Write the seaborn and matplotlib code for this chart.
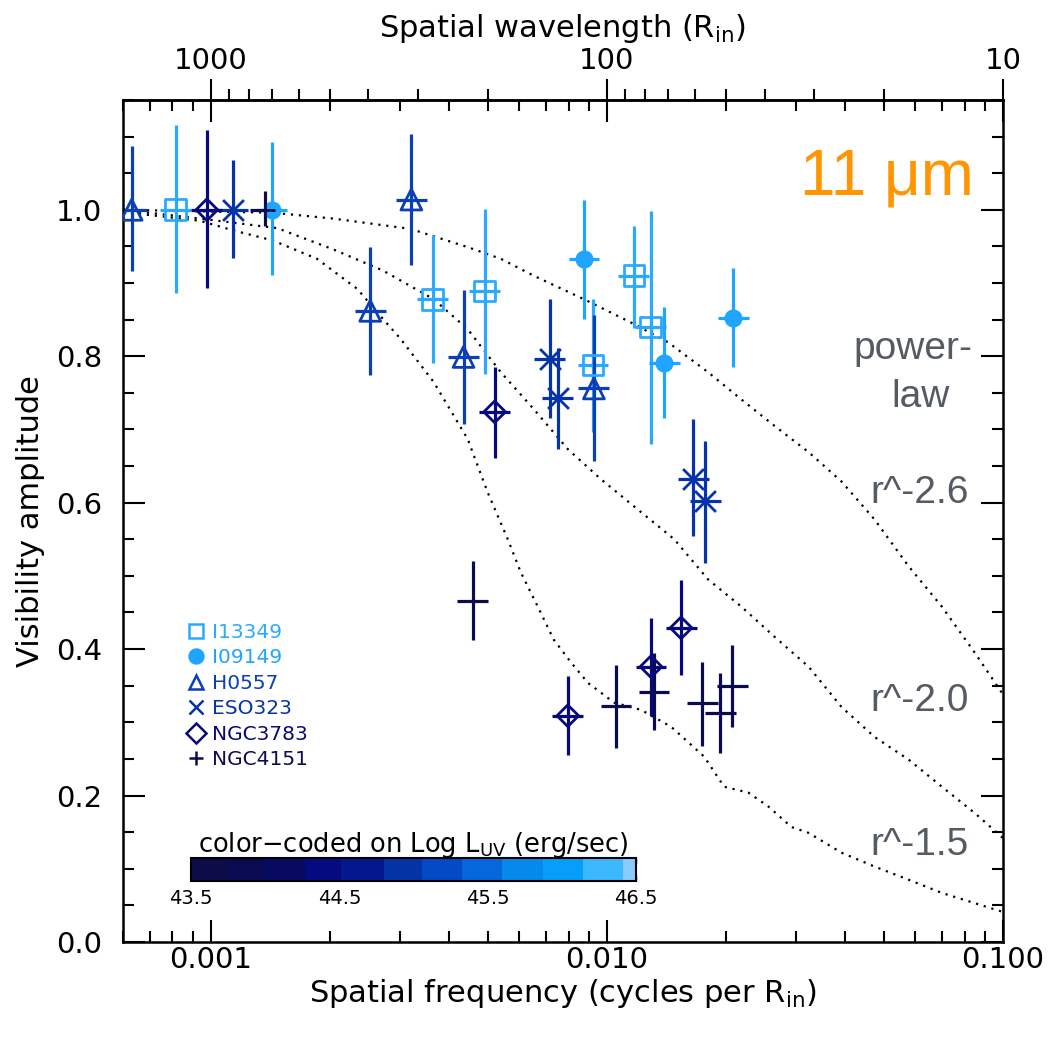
import numpy as np
import pandas as pd
import matplotlib
matplotlib.use("Agg")
from matplotlib import pyplot as plt
from matplotlib.colors import ListedColormap, BoundaryNorm
from matplotlib.cm import ScalarMappable
from matplotlib.lines import Line2D
from matplotlib.ticker import LogLocator, MultipleLocator, NullFormatter
import seaborn as sns


# THE DATA
sources = ["I13349", "I09149", "H0557", "ESO323", "NGC3783", "NGC4151"]
src_colors = ["#2aaaff", "#1fa5ff", "#0a3fb5", "#0733aa", "#08087e", "#0b0b50"]
src_markers = ["s", "o", "^", "x", "D", "+"]
src_open = [True, False, True, False, True, False]

i13349_freq = [0.000815, 0.00363, 0.00491, 0.00922, 0.0117, 0.0129]
i13349_vis = [1.0, 0.878, 0.889, 0.788, 0.910, 0.840]
i13349_lo = [0.886, 0.791, 0.776, 0.696, 0.839, 0.680]
i13349_hi = [1.116, 0.965, 1.001, 0.878, 0.978, 0.999]

i09149_freq = [0.001427, 0.00875, 0.01394, 0.02084]
i09149_vis = [1.0, 0.933, 0.791, 0.852]
i09149_lo = [0.911, 0.851, 0.715, 0.785]
i09149_hi = [1.092, 1.014, 0.867, 0.921]

h0557_freq = [0.000631, 0.002526, 0.003208, 0.004345, 0.009272]
h0557_vis = [1.0, 0.862, 1.014, 0.799, 0.756]
h0557_lo = [0.916, 0.774, 0.925, 0.707, 0.657]
h0557_hi = [1.087, 0.949, 1.103, 0.891, 0.856]

eso323_freq = [0.001137, 0.007173, 0.007515, 0.01651, 0.01771]
eso323_vis = [1.0, 0.796, 0.743, 0.633, 0.602]
eso323_lo = [0.934, 0.715, 0.673, 0.554, 0.518]
eso323_hi = [1.068, 0.878, 0.811, 0.714, 0.684]

ngc3783_freq = [0.000977, 0.005206, 0.007965, 0.01292, 0.01539]
ngc3783_vis = [1.0, 0.724, 0.309, 0.376, 0.429]
ngc3783_lo = [0.893, 0.661, 0.256, 0.308, 0.364]
ngc3783_hi = [1.109, 0.785, 0.363, 0.443, 0.494]

ngc4151_freq = [0.00137, 0.004579, 0.010539, 0.01315, 0.0174, 0.01932, 0.02073]
ngc4151_vis = [1.0, 0.466, 0.322, 0.342, 0.326, 0.313, 0.349]
ngc4151_lo = [0.978, 0.413, 0.265, 0.289, 0.267, 0.258, 0.294]
ngc4151_hi = [1.026, 0.520, 0.378, 0.395, 0.382, 0.368, 0.405]

# half length of the horizontal bars, in dex
xbar_dex = 0.039

# model curves (power-law brightness profiles)
curve26_freq = [0.0006, 0.001436, 0.002036, 0.00319, 0.00445, 0.0054, 0.00653, 0.00874,
                0.0117, 0.01427, 0.01802, 0.02185, 0.02648, 0.0323, 0.0391, 0.0474,
                0.0578, 0.0701, 0.0849, 0.1]
curve26_vis = [1.0, 0.996, 0.988, 0.974, 0.949, 0.933, 0.910, 0.878,
               0.844, 0.819, 0.778, 0.741, 0.705, 0.669, 0.629, 0.577,
               0.513, 0.458, 0.395, 0.338]

curve20_freq = [0.0006, 0.000938, 0.00147, 0.002036, 0.00272, 0.00365, 0.00445, 0.0054,
                0.00653, 0.00797, 0.00966, 0.0122, 0.01479, 0.01802, 0.02185, 0.02648,
                0.0323, 0.0391, 0.0474, 0.0578, 0.0701, 0.0849, 0.1]
curve20_vis = [1.0, 0.988, 0.975, 0.946, 0.917, 0.878, 0.837, 0.778,
               0.728, 0.673, 0.632, 0.587, 0.550, 0.495, 0.458, 0.417,
               0.376, 0.321, 0.280, 0.249, 0.212, 0.176, 0.142]

curve15_freq = [0.0006, 0.000938, 0.001137, 0.001436, 0.001854, 0.002342, 0.00272, 0.00301,
                0.00365, 0.00445, 0.0050, 0.00562, 0.00606, 0.00669, 0.00734, 0.00811,
                0.00895, 0.01042, 0.0122, 0.01452, 0.01761, 0.01977, 0.02275, 0.02557,
                0.02924, 0.0323, 0.0391, 0.0474, 0.0578, 0.0701, 0.0849, 0.1]
curve15_vis = [0.997, 0.985, 0.972, 0.958, 0.933, 0.892, 0.851, 0.824,
               0.765, 0.687, 0.614, 0.550, 0.505, 0.458, 0.413, 0.382,
               0.354, 0.327, 0.317, 0.294, 0.253, 0.212, 0.204, 0.185,
               0.157, 0.149, 0.122, 0.103, 0.085, 0.067, 0.053, 0.041]

# colour bar (Log L_UV)
cbar_bounds = [43.5, 43.74, 44.0, 44.27, 44.51, 44.8, 45.06, 45.33, 45.6, 45.87, 46.14, 46.41, 46.5]
cbar_colors = ["#0c0c48", "#0a0a52", "#080a62", "#060a80", "#05178f", "#0433a6",
               "#0449c6", "#0567dd", "#058aec", "#069ef8", "#3cb8ff", "#88ccff"]
cbar_ticks = [43.5, 44.0, 44.5, 45.0, 45.5, 46.0, 46.5]
cbar_labels = ["43.5", "", "44.5", "", "45.5", "", "46.5"]

x_ticks = [0.001, 0.01, 0.1]
x_labels = ["0.001", "0.010", "0.100"]
y_ticks = [0.0, 0.2, 0.4, 0.6, 0.8, 1.0]
y_labels = ["0.0", "0.2", "0.4", "0.6", "0.8", "1.0"]
top_ticks = [1000, 100, 10]
top_labels = ["1000", "100", "10"]


# PUT THE POINTS IN ONE TABLE
def build_df():
    parts = []
    tables = [
        (i13349_freq, i13349_vis, i13349_lo, i13349_hi),
        (i09149_freq, i09149_vis, i09149_lo, i09149_hi),
        (h0557_freq, h0557_vis, h0557_lo, h0557_hi),
        (eso323_freq, eso323_vis, eso323_lo, eso323_hi),
        (ngc3783_freq, ngc3783_vis, ngc3783_lo, ngc3783_hi),
        (ngc4151_freq, ngc4151_vis, ngc4151_lo, ngc4151_hi),
    ]
    for name, (f, v, lo, hi) in zip(sources, tables):
        parts.append(pd.DataFrame({"source": name, "freq": f, "vis": v, "lo": lo, "hi": hi}))
    return pd.concat(parts, ignore_index=True)


def inverse(x):
    x = np.asarray(x, dtype=float)
    with np.errstate(divide="ignore"):
        return 1.0 / x


sns.set_theme(style="ticks")
plt.rcParams["font.family"] = ["DejaVu Sans"]
plt.rcParams["axes.linewidth"] = 1.8
plt.rcParams["text.color"] = "black"
plt.rcParams["axes.labelcolor"] = "black"
plt.rcParams["xtick.color"] = "black"
plt.rcParams["ytick.color"] = "black"
plt.rcParams["axes.edgecolor"] = "black"

df = build_df()

fig = plt.figure(figsize=(10.53, 10.38), dpi=100)
ax = fig.add_axes([0.1168, 0.0925, 0.8357, 0.8112])
ax.set_xscale("log")

# dotted model curves
dots = (0, (1.0, 2.6))
for cf, cv in [(curve26_freq, curve26_vis), (curve20_freq, curve20_vis), (curve15_freq, curve15_vis)]:
    sns.lineplot(x=cf, y=cv, ax=ax, color="black", linewidth=1.6, linestyle=dots,
                 estimator=None, sort=False)

# error bars and markers
for name, col, mk, hollow in zip(sources, src_colors, src_markers, src_open):
    sub = df[df["source"] == name]
    f = sub["freq"].to_numpy()
    xlo = f - f / 10 ** xbar_dex
    xhi = f * 10 ** xbar_dex - f
    ax.errorbar(f, sub["vis"], yerr=[sub["vis"] - sub["lo"], sub["hi"] - sub["vis"]],
                xerr=[xlo, xhi], fmt="none", ecolor=col, elinewidth=2.3, capsize=0)
    if hollow:
        size = {"s": 15, "^": 15, "D": 11}[mk]
        sns.scatterplot(data=sub, x="freq", y="vis", ax=ax, marker=mk, s=size ** 2,
                        color=col, facecolor="none", edgecolor=col, linewidth=2, legend=False, zorder=3)
    elif mk == "o":
        sns.scatterplot(data=sub, x="freq", y="vis", ax=ax, marker=mk, s=13 ** 2,
                        color=col, edgecolor=col, linewidth=0, legend=False, zorder=3)
    else:
        sns.scatterplot(data=sub, x="freq", y="vis", ax=ax, marker=mk, s=15 ** 2,
                        color=col, linewidth=2, legend=False, zorder=3)

ax.set_xlim(0.0006, 0.1)
ax.set_ylim(0, 1.15)
ax.set_xticks(x_ticks, labels=x_labels)
ax.xaxis.set_minor_locator(LogLocator(base=10, subs=np.arange(2, 10)))
ax.xaxis.set_minor_formatter(NullFormatter())
ax.set_yticks(y_ticks, labels=y_labels)
ax.yaxis.set_minor_locator(MultipleLocator(0.05))
ax.tick_params(which="both", direction="in", top=True, right=True, width=1.5, color="black")
ax.tick_params(which="major", length=16, labelsize=21)
ax.tick_params(which="minor", length=8)
ax.tick_params(axis="x", which="major", pad=3)
ax.tick_params(axis="y", which="major", pad=15)
ax.set_xlabel("Spatial frequency (cycles per R$_{\\rm in}$)", fontsize=22, labelpad=2)
ax.set_ylabel("Visibility amplitude", fontsize=22, labelpad=8)

# top axis: spatial wavelength
sec = ax.secondary_xaxis("top", functions=(inverse, inverse))
sec.set_xticks(top_ticks, labels=top_labels)
sec.xaxis.set_minor_locator(LogLocator(base=10, subs=np.arange(2, 10)))
sec.xaxis.set_minor_formatter(NullFormatter())
sec.tick_params(which="both", direction="out", width=1.5, color="black")
sec.tick_params(which="major", length=15, labelsize=21, pad=3)
sec.tick_params(which="minor", length=8)
sec.set_xlabel("Spatial wavelength (R$_{\\rm in}$)", fontsize=22, labelpad=7)
sec.spines["top"].set_linewidth(1.8)

# curve labels
gray = "#555b63"
lab_font = {"family": "Liberation Sans", "fontsize": 28, "color": gray}
ax.text(0.0592, 0.796, "power-", ha="center", va="baseline", **lab_font)
ax.text(0.062, 0.730, "law", ha="center", va="baseline", **lab_font)
ax.text(0.0616, 0.600, "r^-2.6", ha="center", va="baseline", **lab_font)
ax.text(0.0616, 0.315, "r^-2.0", ha="center", va="baseline", **lab_font)
ax.text(0.0616, 0.119, "r^-1.5", ha="center", va="baseline", **lab_font)
ax.text(0.0508, 1.0205, "11 μm", ha="center", va="baseline", family="Liberation Sans",
        fontsize=46, color="#ff9500")

# legend, markers only
handles = []
for col, mk, hollow in zip(src_colors, src_markers, src_open):
    handles.append(Line2D([], [], ls="none", marker=mk, color=col, mec=col,
                          mfc="none" if hollow else col, ms=10, mew=1.8))
ax.legend(handles, sources, loc="upper left", bbox_to_anchor=(0.074, 0.379), frameon=False,
          labelcolor=src_colors, fontsize=14.5, handlelength=0.8, handletextpad=0.4,
          labelspacing=0.32, borderpad=0, borderaxespad=0)

# colour bar
cax = fig.add_axes([191 / 1053, (1038 - 881) / 1038, 445 / 1053, 23 / 1038])
sm = ScalarMappable(norm=BoundaryNorm(cbar_bounds, len(cbar_colors)), cmap=ListedColormap(cbar_colors))
cb = fig.colorbar(sm, cax=cax, orientation="horizontal", spacing="proportional")
cb.set_ticks(cbar_ticks, labels=cbar_labels)
cb.outline.set_linewidth(1.5)
cax.xaxis.set_minor_locator(plt.NullLocator())
cax.tick_params(axis="x", direction="in", length=4, width=1, top=True, bottom=True,
                labelsize=14, pad=6, color="black")
cax.set_title("color\u2212coded on Log L$_{\\rm UV}$ (erg/sec)", fontsize=18.5, pad=4)

fig.savefig("out.png", dpi=100)
